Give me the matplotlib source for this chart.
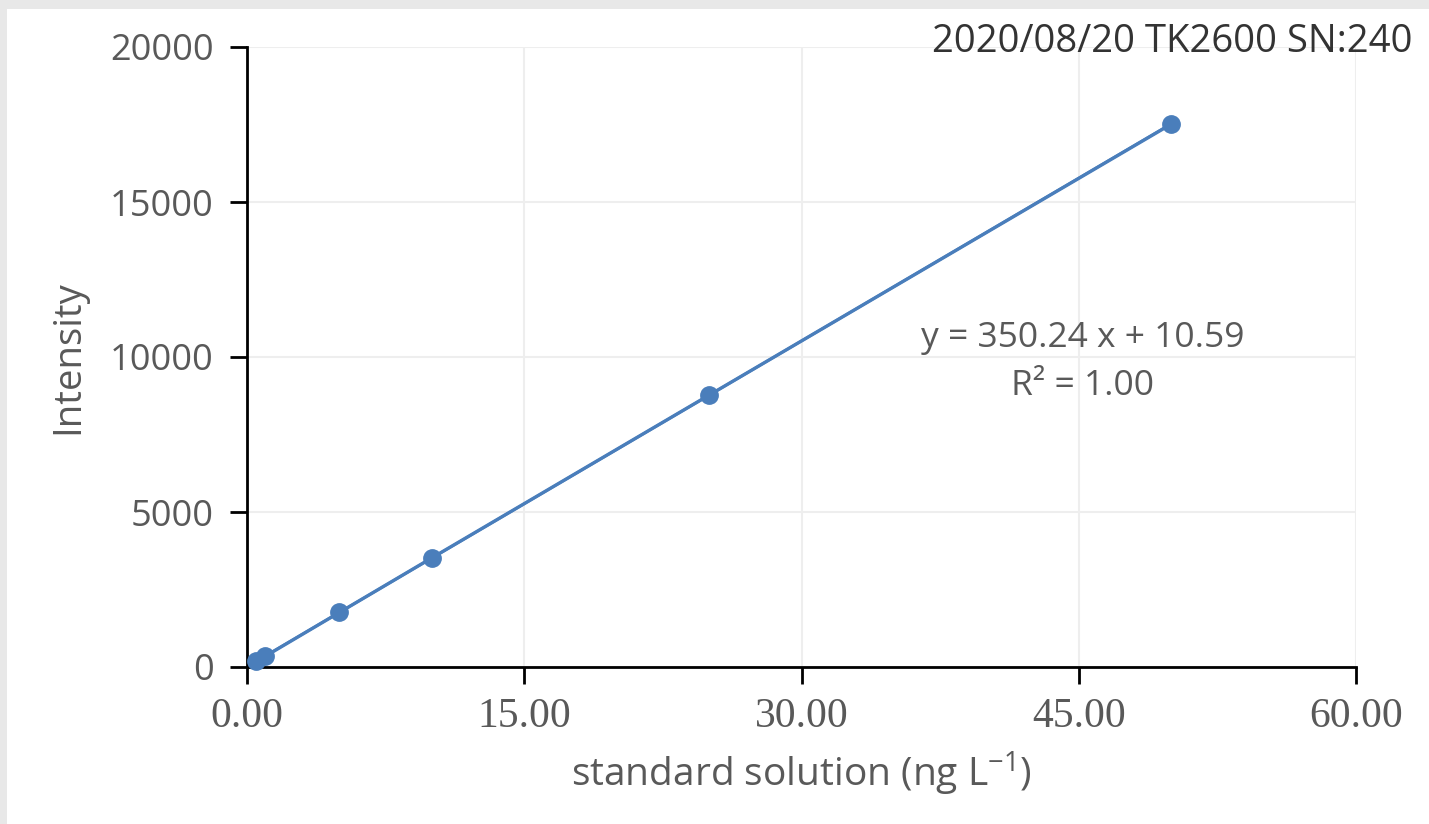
import matplotlib.pyplot as plt
from matplotlib.patches import Rectangle
import numpy as np

# calibration standards
conc = [0.5, 1, 5, 10, 25, 50]
intensity = [180, 350, 1760, 3520, 8770, 17510]
slope, intercept = 350.24, 10.59

x_ticks = [0, 15, 30, 45, 60]
y_ticks = [0, 5000, 10000, 15000, 20000]

blue = '#4a7ebb'
grey_txt = '#595959'

fig = plt.figure(figsize=(14.29, 8.24), dpi=100)
fig.patch.set_facecolor('#e8e8e8')
fig.patches.append(Rectangle((7 / 1429, 0), 1 - 7 / 1429, 1 - 9 / 824,
                             transform=fig.transFigure, facecolor='white',
                             edgecolor='none', zorder=-10))
ax = fig.add_axes([247 / 1429, 1 - 667 / 824, (1356 - 247) / 1429, (667 - 47) / 824])
ax.set_facecolor('none')

# trendline + data
xf = np.array([conc[0], conc[-1]])
ax.plot(xf, slope * xf + intercept, color=blue, lw=2, zorder=3)
ax.plot(conc, intensity, color=blue, lw=2.4, marker='o', ms=12.5, zorder=4,
        clip_on=False)

ax.set_xlim(0, 60)
ax.set_ylim(0, 20000)
ax.set_xticks(x_ticks)
ax.set_xticklabels(['%.2f' % v for v in x_ticks], family='Liberation Serif',
                   fontsize=30, color=grey_txt)
ax.set_yticks(y_ticks)
ax.set_yticklabels([str(v) for v in y_ticks], family='Open Sans',
                   fontsize=26, color=grey_txt)
ax.grid(True, color='#eeeeee', lw=1.5)
ax.set_axisbelow(True)
for s in ['top', 'right']:
    ax.spines[s].set_visible(False)
for s in ['left', 'bottom']:
    ax.spines[s].set_linewidth(2)
    ax.spines[s].set_color('black')
ax.tick_params(axis='both', direction='out', length=12, width=2, color='black')
ax.tick_params(axis='x', pad=10)
ax.tick_params(axis='y', pad=12)

ax.set_xlabel('standard solution (ng L$^{\\mathregular{-1}}$)', family='Open Sans',
              fontsize=28, color=grey_txt, labelpad=10)
ax.set_ylabel('Intensity', family='Open Sans', fontsize=27.5, color=grey_txt,
              labelpad=16)

ax.text(45.2, 10600, 'y = 350.24 x + 10.59', family='Open Sans', fontsize=25.5,
        color=grey_txt, ha='center', va='center')
ax.text(45.2, 9050, 'R² = 1.00', family='Open Sans', fontsize=25.5,
        color=grey_txt, ha='center', va='center')

fig.text(1413 / 1429, 1 - 42 / 824, '2020/08/20 TK2600 SN:240', family='Open Sans',
         fontsize=27.5, color='#333333', ha='right', va='center')

fig.savefig('out.png', dpi=100, facecolor=fig.get_facecolor())
